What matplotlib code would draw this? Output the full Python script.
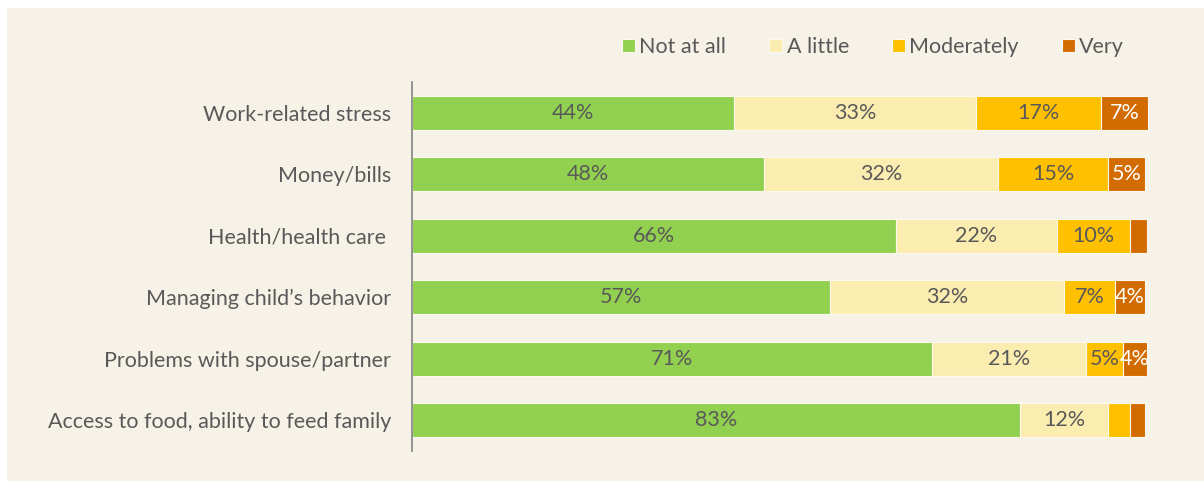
import numpy as np
import matplotlib.pyplot as plt
from matplotlib.patches import Rectangle

plt.rcParams['font.family'] = ['Lato', 'DejaVu Sans']

categories = ["Work-related stress", "Money/bills", "Health/health care ",
              "Managing child\u2019s behavior", "Problems with spouse/partner",
              "Access to food, ability to feed family"]
series = ["Not at all", "A little", "Moderately", "Very"]
not_at_all = [44, 48, 66, 57, 71, 83]
a_little = [33, 32, 22, 32, 21, 12]
moderately = [17, 15, 10, 7, 5, 3]
very = [6.5, 5, 2.3, 4, 3.3, 2]
# labels shown on the chart (None = no label)
lab_not = ["44%", "48%", "66%", "57%", "71%", "83%"]
lab_little = ["33%", "32%", "22%", "32%", "21%", "12%"]
lab_mod = ["17%", "15%", "10%", "7%", "5%", None]
lab_very = ["7%", "5%", None, "4%", "4%", None]

colors = ["#92D050", "#FBECB0", "#FFC000", "#D26B00"]
text_colors = ["#595959", "#595959", "#595959", "white"]
bg = "#F7F2E7"
fs = 15.5

fig = plt.figure(figsize=(12.04, 4.87), dpi=100)
fig.patch.set_facecolor("white")
fig.patches.append(Rectangle((7 / 1204, 6 / 487), 1 - 7 / 1204, 1 - 14 / 487,
                             transform=fig.transFigure, facecolor=bg,
                             edgecolor="none", zorder=-5))

ax = fig.add_axes([412 / 1204, 1 - 451 / 487, 740 / 1204, (451 - 82) / 487])
ax.set_facecolor("none")

y = np.arange(len(categories))
left = np.zeros(len(categories))
data = [not_at_all, a_little, moderately, very]
labels = [lab_not, lab_little, lab_mod, lab_very]
for vals, col, tcol, labs, name in zip(data, colors, text_colors, labels, series):
    ax.barh(y, vals, left=left, height=0.55, color=col,
            edgecolor="#FDF8EE", linewidth=0.8, label=name)
    for i, (v, lb) in enumerate(zip(vals, labs)):
        if lb:
            ax.text(left[i] + v / 2, y[i], lb, ha="center", va="center",
                    fontsize=fs, color=tcol)
    left += np.array(vals)

ax.set_xlim(0, 101)
ax.set_ylim(len(categories) - 0.5, -0.5)
ax.set_yticks(y)
ax.set_yticklabels(categories, fontsize=fs, color="#595959")
ax.tick_params(axis="y", length=0, pad=15)
ax.set_xticks([])
for s in ["top", "right", "bottom"]:
    ax.spines[s].set_visible(False)
ax.spines["left"].set_color("#8C8C8C")
ax.spines["left"].set_linewidth(1.3)

leg = fig.legend(loc="center", bbox_to_anchor=(873 / 1204, 1 - 47 / 487), ncol=4,
                 frameon=False, fontsize=fs, handlelength=0.6, handleheight=0.6,
                 handletextpad=0.2, columnspacing=2.0)
for t in leg.get_texts():
    t.set_color("#595959")

fig.savefig("out.png", dpi=100, facecolor=fig.get_facecolor())
